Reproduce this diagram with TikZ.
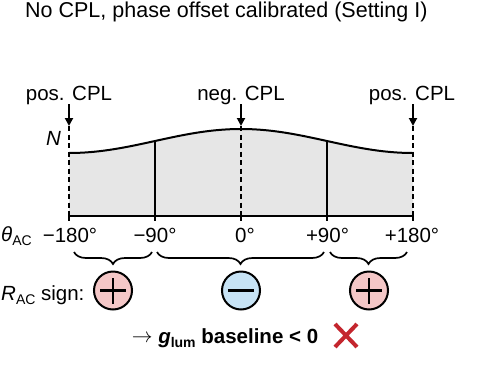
\documentclass[tikz,border=0pt]{standalone}
\usepackage{fontspec}
\setmainfont{Liberation Sans}
\usetikzlibrary{decorations.pathreplacing,arrows.meta}
\definecolor{fillgray}{HTML}{E6E6E6}
\definecolor{pluspink}{HTML}{F4C7C7}
\definecolor{minusblue}{HTML}{C7E3F5}
\definecolor{crossred}{HTML}{C4262E}
\newcommand{\subtxt}[1]{\raisebox{-4pt}{\fontsize{14}{14}\selectfont #1}}
\begin{document}
\begin{tikzpicture}[x=1pt,y=-1pt,
  lbl/.style={inner sep=0pt, anchor=base, font=\fontsize{20.5}{24}\selectfont},
  axisline/.style={line width=1.9pt},
  dashline/.style={line width=1.9pt, dash pattern=on 5pt off 3.5pt},
  cplarrow/.style={line width=1.9pt, -{Triangle[length=8pt,width=8pt]}},
  signcirc/.style={circle, draw, line width=2pt, minimum size=38pt, inner sep=0pt},
  signbar/.style={line width=2.3pt},
  bracestyle/.style={decorate, decoration={brace, mirror, amplitude=12pt}, line width=1.7pt},
]
\useasboundingbox (0,0) rectangle (491,368);

% title
\node[lbl, anchor=base west, font=\fontsize{21.5}{24}\selectfont] (title) at (25,17) {No CPL, phase offset calibrated (Setting I)};

% shaded distribution
\fill[fillgray] (69,216) -- plot[domain=69:413, samples=80] (\x, {216-75-12*cos((\x-241)/172*180)}) -- (413,216) -- cycle;
\draw[line width=2pt] plot[domain=69:413, samples=80] (\x, {216-75-12*cos((\x-241)/172*180)});

% coordinates on axis
\coordinate (a1) at (69,216);
\coordinate (a2) at (155,216);
\coordinate (a3) at (241,216);
\coordinate (a4) at (327,216);
\coordinate (a5) at (413,216);

% solid lines at +-90
\coordinate (c2) at (155,141);
\coordinate (c4) at (327,141);
\draw[axisline] (c2) -- (a2);
\draw[axisline] (c4) -- (a4);

% dashed lines
\coordinate (d1) at (69,126);
\coordinate (d3) at (241,126);
\coordinate (d5) at (413,126);
\draw[dashline] (d1) -- (a1);
\draw[dashline] (d3) -- (a3);
\draw[dashline] (d5) -- (a5);

% CPL labels and arrows
\node[lbl] (p1) at (69,100.5) {pos. CPL};
\node[lbl] (n1) at (241,100.5) {neg. CPL};
\node[lbl] (p2) at (412,100.5) {pos. CPL};
\draw[cplarrow] (69,104) -- (d1);
\draw[cplarrow] (241,104) -- (d3);
\draw[cplarrow] (413,104) -- (d5);

% N label
\node[lbl, anchor=base west] (N) at (46,145) {\itshape N};

% axis
\draw[axisline] (a1) -- (a5);
\foreach \p in {a1,a2,a3,a4,a5} \draw[axisline] (\p) -- ++(0,5);

% tick labels
\node[lbl] (t1) at (70,242) {−180°};
\node[lbl] (t2) at (155,242) {−90°};
\node[lbl] (t3) at (245,242) {0°};
\node[lbl] (t4) at (327.5,242) {+90°};
\node[lbl] (t5) at (412,242) {+180°};
\node[lbl, anchor=base west] (theta) at (1,241) {{\itshape θ}\subtxt{AC}};

% braces
\draw[bracestyle] (74,252) -- (152,252);
\draw[bracestyle] (157,252) -- (324,252);
\draw[bracestyle] (330,252) -- (407,252);

% sign circles
\node[lbl, anchor=base west] (rlab) at (1,300) {{\itshape R}\subtxt{AC} sign:};
\node[signcirc, fill=pluspink] (s1) at (113,290.5) {};
\node[signcirc, fill=minusblue] (s2) at (241,290.5) {};
\node[signcirc, fill=pluspink] (s3) at (369,290.5) {};
\draw[signbar] ([xshift=-13pt]s1.center) -- ([xshift=13pt]s1.center);
\draw[signbar] ([yshift=-13pt]s1.center) -- ([yshift=13pt]s1.center);
\draw[signbar] ([xshift=-13pt]s2.center) -- ([xshift=13pt]s2.center);
\draw[signbar] ([xshift=-13pt]s3.center) -- ([xshift=13pt]s3.center);
\draw[signbar] ([yshift=-13pt]s3.center) -- ([yshift=13pt]s3.center);

% conclusion
\node[lbl, font=\fontsize{20.5}{24}\selectfont\bfseries] (concl) at (225,343.5) {\raisebox{1pt}{\(\rightarrow\)} \textit{g}\subtxt{lum} baseline < 0};
\coordinate (x1) at (335,324);
\coordinate (x2) at (357,347);
\coordinate (x3) at (357,324);
\coordinate (x4) at (335,347);
\draw[crossred, line width=4pt] (x1) -- (x2) (x3) -- (x4);
\end{tikzpicture}
\end{document}
